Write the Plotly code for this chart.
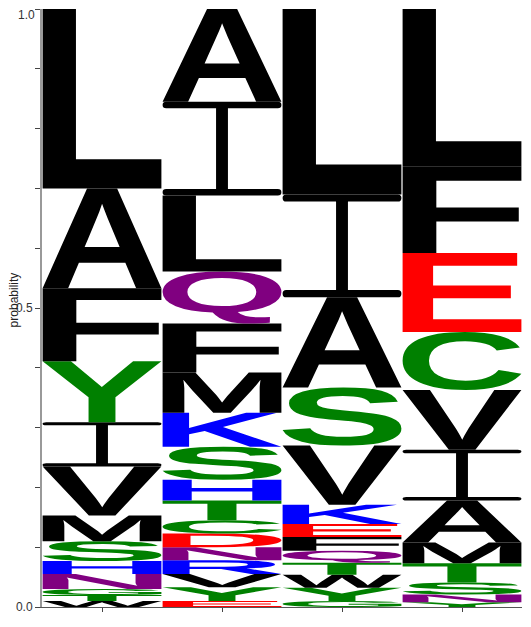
import glob
import os
import struct

import plotly.graph_objects as go

# stacked letters for each position, listed bottom -> top
pos1_letters = ["W", "T", "G", "N", "H", "S", "M", "V", "I", "Y", "F", "A", "L"]
pos1_probs = [0.010, 0.010, 0.010, 0.025, 0.022, 0.033, 0.043, 0.082, 0.074, 0.102, 0.122, 0.167, 0.300]

pos2_letters = ["E", "Y", "V", "R", "N", "D", "C", "T", "H", "S", "K", "M", "F", "Q", "L", "I", "A"]
pos2_probs = [0.010, 0.023, 0.022, 0.023, 0.022, 0.023, 0.022, 0.033, 0.035, 0.055, 0.057, 0.067,
              0.082, 0.087, 0.127, 0.157, 0.155]

pos3_letters = ["G", "Y", "W", "T", "Q", "F", "E", "K", "V", "S", "A", "I", "L"]
pos3_probs = [0.010, 0.022, 0.022, 0.020, 0.020, 0.023, 0.022, 0.032, 0.099, 0.097, 0.151, 0.172, 0.310]

pos4_letters = ["Y", "N", "S", "T", "M", "A", "I", "V", "C", "E", "F", "L"]
pos4_probs = [0.008, 0.013, 0.020, 0.032, 0.035, 0.070, 0.085, 0.100, 0.097, 0.132, 0.144, 0.264]

positions = [1, 2, 3, 4]
y_tickvals = [round(0.1 * i, 1) for i in range(11)]
# the top label is placed separately so it stays inside the page
y_ticktext = ["0.0", "", "", "", "", "0.5", "", "", "", "", ""]
top_label = "1.0"

# chemistry colour scheme
GREEN, PURPLE, BLUE, RED, BLACK = "#008000", "#800080", "#0000ff", "#ff0000", "#000000"
colors = {}
for c in "GSTYC":
    colors[c] = GREEN
for c in "NQ":
    colors[c] = PURPLE
for c in "KRH":
    colors[c] = BLUE
for c in "DE":
    colors[c] = RED
for c in "AVLIPWFM":
    colors[c] = BLACK


# --- tiny truetype reader, just enough to pull letter outlines ---
class TTF:
    def __init__(self, path):
        with open(path, "rb") as f:
            self.d = f.read()
        d = self.d
        n = struct.unpack(">H", d[4:6])[0]
        self.tables = {}
        for i in range(n):
            rec = d[12 + 16 * i:28 + 16 * i]
            off, ln = struct.unpack(">II", rec[8:16])
            self.tables[rec[:4].decode("latin-1")] = off
        head = self.tables["head"]
        self.loc_fmt = struct.unpack(">h", d[head + 50:head + 52])[0]
        self._find_cmap()

    def H(self, p):
        return struct.unpack(">H", self.d[p:p + 2])[0]

    def _find_cmap(self):
        base = self.tables["cmap"]
        self.sub = None
        for i in range(self.H(base + 2)):
            pid, eid, off = struct.unpack(">HHI", self.d[base + 4 + 8 * i:base + 12 + 8 * i])
            if self.H(base + off) == 4:
                self.sub = base + off
                break

    def gid(self, ch):
        c = ord(ch)
        sub = self.sub
        segx2 = self.H(sub + 6)
        ends = sub + 14
        starts = ends + segx2 + 2
        deltas = starts + segx2
        ranges = deltas + segx2
        for i in range(segx2 // 2):
            if self.H(ends + 2 * i) >= c:
                start = self.H(starts + 2 * i)
                if start > c:
                    return 0
                delta = self.H(deltas + 2 * i)
                ro = self.H(ranges + 2 * i)
                if ro == 0:
                    return (c + delta) & 0xFFFF
                g = self.H(ranges + 2 * i + ro + 2 * (c - start))
                return (g + delta) & 0xFFFF if g else 0
        return 0

    def outline(self, ch):
        d = self.d
        g = self.gid(ch)
        loca, glyf = self.tables["loca"], self.tables["glyf"]
        if self.loc_fmt == 0:
            o = self.H(loca + 2 * g) * 2
        else:
            o = struct.unpack(">I", d[loca + 4 * g:loca + 4 * g + 4])[0]
        p = glyf + o
        nc, xmin, ymin, xmax, ymax = struct.unpack(">hhhhh", d[p:p + 10])
        if nc <= 0:
            return None
        p += 10
        ends = struct.unpack(">%dH" % nc, d[p:p + 2 * nc])
        p += 2 * nc
        p += 2 + self.H(p)
        npts = ends[-1] + 1
        flags = []
        while len(flags) < npts:
            f = d[p]
            p += 1
            flags.append(f)
            if f & 8:
                flags.extend([f] * d[p])
                p += 1
        xs, ys = [], []
        for arr, short, same in ((xs, 2, 16), (ys, 4, 32)):
            v = 0
            for f in flags:
                if f & short:
                    dv = d[p]
                    p += 1
                    v += dv if f & same else -dv
                elif not f & same:
                    v += struct.unpack(">h", d[p:p + 2])[0]
                    p += 2
                arr.append(v)
        w, h = float(xmax - xmin), float(ymax - ymin)
        pts = [((x - xmin) / w, (y - ymin) / h, f & 1) for x, y, f in zip(xs, ys, flags)]
        segs = []
        s = 0
        for e in ends:
            cont = pts[s:e + 1]
            s = e + 1
            k = next((i for i, q in enumerate(cont) if q[2]), None)
            if k is None:
                a, b = cont[-1], cont[0]
                cont = [((a[0] + b[0]) / 2, (a[1] + b[1]) / 2, 1)] + cont
                k = 0
            seq = cont[k:] + cont[:k]
            segs.append(("M", [seq[0][:2]]))
            prev = None
            for q in seq[1:] + [seq[0]]:
                if q[2]:
                    segs.append(("Q", [prev, q[:2]]) if prev else ("L", [q[:2]]))
                    prev = None
                else:
                    if prev:
                        segs.append(("Q", [prev, ((prev[0] + q[0]) / 2, (prev[1] + q[1]) / 2)]))
                    prev = q[:2]
            segs.append(("Z", []))
        return segs


# serif-style I as used in the logo (unit box)
t, r = 0.07, 0.03
I_GLYPH = [
    ("M", [(r, 1)]), ("L", [(1 - r, 1)]), ("Q", [(1, 1), (1, 1 - t / 2)]), ("Q", [(1, 1 - t), (1 - r, 1 - t)]),
    ("L", [(0.55, 1 - t)]), ("L", [(0.55, t)]), ("L", [(1 - r, t)]), ("Q", [(1, t), (1, t / 2)]),
    ("Q", [(1, 0), (1 - r, 0)]), ("L", [(r, 0)]), ("Q", [(0, 0), (0, t / 2)]), ("Q", [(0, t), (r, t)]),
    ("L", [(0.45, t)]), ("L", [(0.45, 1 - t)]), ("L", [(r, 1 - t)]), ("Q", [(0, 1 - t), (0, 1 - t / 2)]),
    ("Q", [(0, 1), (r, 1)]), ("Z", []),
]

font = None
for root in ["/usr/share/fonts", "/usr/local/share/fonts", os.path.expanduser("~/.fonts")]:
    hits = glob.glob(os.path.join(root, "**", "LiberationSans-Bold.ttf"), recursive=True)
    if hits:
        font = TTF(hits[0])
        break

glyph_cache = {"I": I_GLYPH}


def glyph(ch):
    if ch not in glyph_cache:
        segs = font.outline(ch) if font else None
        glyph_cache[ch] = segs or [("M", [(0, 0)]), ("L", [(1, 0)]), ("L", [(1, 1)]), ("L", [(0, 1)]), ("Z", [])]
    return glyph_cache[ch]


def letter_path(ch, x0, x1, y0, y1):
    out = []
    for cmd, pts in glyph(ch):
        coords = " ".join("%.4f,%.5f" % (x0 + px * (x1 - x0), y0 + py * (y1 - y0)) for px, py in pts)
        out.append(cmd + coords)
    return " ".join(out)


columns = [(pos1_letters, pos1_probs), (pos2_letters, pos2_probs),
           (pos3_letters, pos3_probs), (pos4_letters, pos4_probs)]

fig = go.Figure()
shapes = []
for x, (letters, probs) in zip(positions, columns):
    base = 0.0
    for ch, p in zip(letters, probs):
        shapes.append(dict(
            type="path", xref="x", yref="y",
            path=letter_path(ch, x - 0.495, x + 0.495, base, base + p),
            fillcolor=colors[ch], fillrule="nonzero", line=dict(width=0),
        ))
        base += p

# invisible trace so the axes carry the positions
fig.add_trace(go.Scatter(x=positions, y=[0] * len(positions), mode="markers",
                         marker=dict(opacity=0), hoverinfo="skip", showlegend=False))

# page body keeps an 8px margin, so the figure is trimmed by that much
fig.update_layout(
    template="none",
    width=523, height=619,
    margin=dict(l=34, r=9, t=1, b=20, autoexpand=False),
    plot_bgcolor="white", paper_bgcolor="white",
    font=dict(family="Liberation Sans, Arial, sans-serif", size=12, color="#333"),
    shapes=shapes,
    showlegend=False,
    xaxis=dict(range=[0.5, 4.5], tickvals=positions, showticklabels=False, ticks="outside",
               ticklen=4, tickcolor="#444", showline=True, linecolor="#555", linewidth=1,
               showgrid=False, zeroline=False, fixedrange=True, automargin=False),
    yaxis=dict(range=[0, 1], tickvals=y_tickvals, ticktext=y_ticktext, ticks="outside",
               ticklen=5, tickcolor="#444", showline=True, linecolor="#999", linewidth=2,
               showgrid=False, zeroline=False, fixedrange=True, automargin=False),
    annotations=[
        dict(text="probability", xref="paper", yref="paper", x=-0.058, y=0.513,
             xanchor="center", yanchor="middle", textangle=-90, showarrow=False,
             font=dict(size=12, color="#222")),
        dict(text=top_label, xref="paper", yref="y", x=0, y=1, xanchor="right", yanchor="top",
             xshift=-6, yshift=2, showarrow=False, borderpad=0,
             font=dict(size=12, color="#333")),
    ],
)

fig.write_html("out.html")
